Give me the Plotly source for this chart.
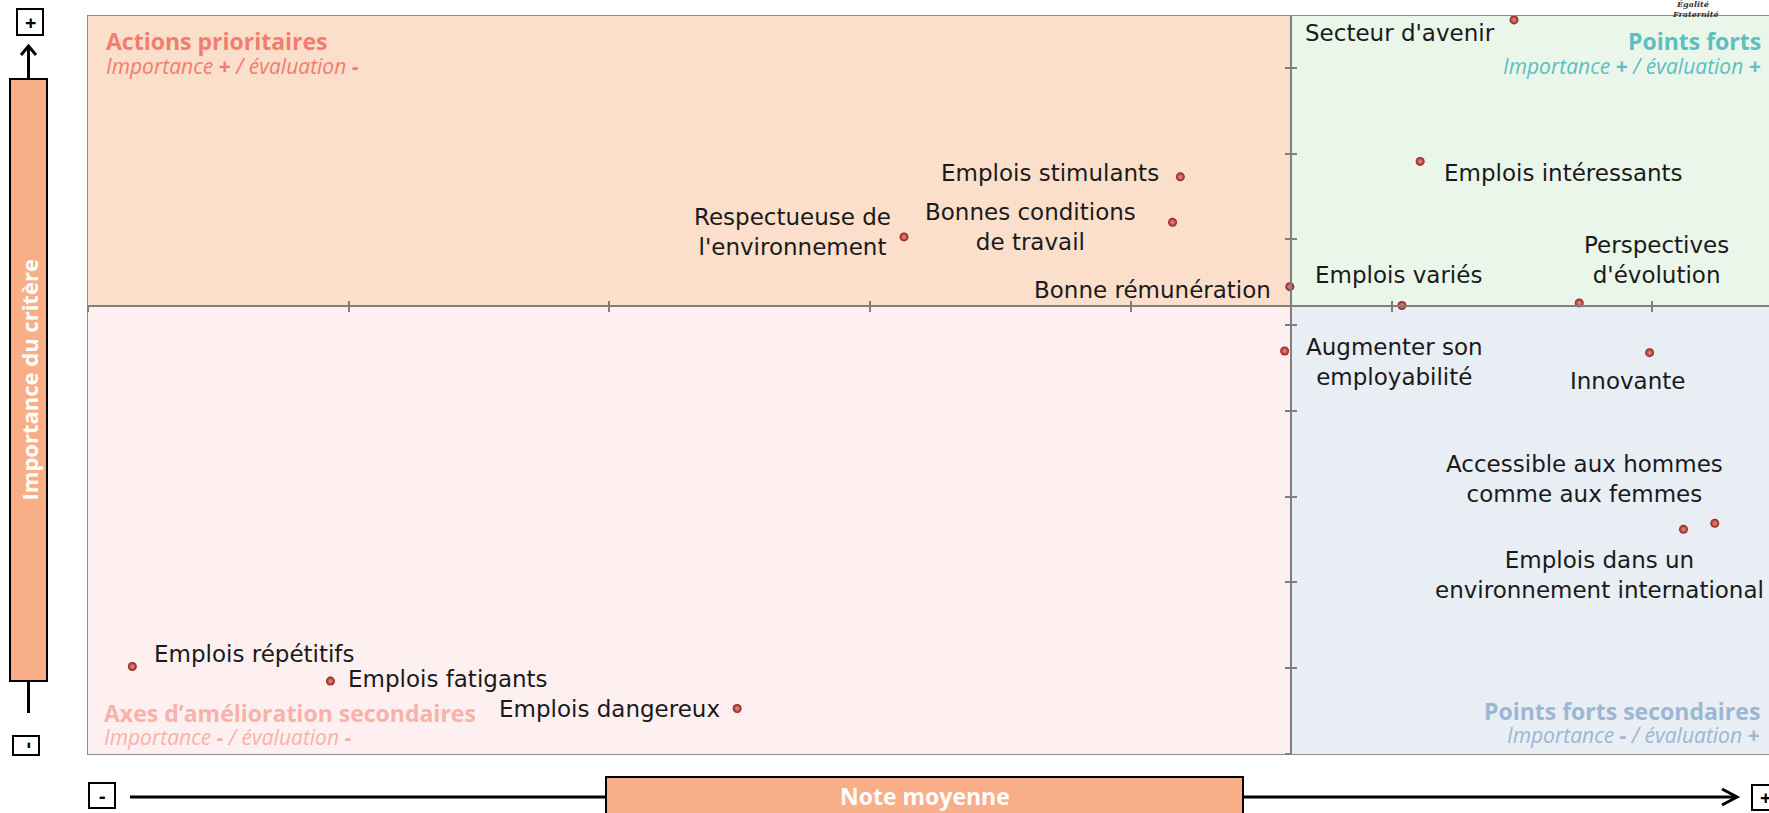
import plotly.graph_objects as go

# criteres : note moyenne (x) et importance du critere (y)
criteres = ["Secteur d'avenir", "Emplois intéressants", "Emplois stimulants",
            "Bonnes conditions<br>de travail", "Respectueuse de<br>l'environnement",
            "Bonne rémunération", "Emplois variés", "Perspectives<br>d'évolution",
            "Augmenter son<br>employabilité", "Innovante",
            "Accessible aux hommes<br>comme aux femmes",
            "Emplois dans un<br>environnement international",
            "Emplois répétitifs", "Emplois fatigants", "Emplois dangereux"]
note_moyenne = [5.47, 5.11, 4.19, 4.16, 3.13, 4.61, 5.04, 5.72, 4.59, 5.99,
                6.12, 6.24, 0.17, 0.93, 2.49]
importance = [8.56, 6.91, 6.73, 6.20, 6.03, 5.45, 5.23, 5.26, 4.70, 4.68,
              2.62, 2.69, 1.02, 0.85, 0.53]

# croisement des axes (moyennes)
x_cross = 4.614
y_cross = 5.22
x_max = 6.448
y_max = 8.606
x_ticks = [0, 1, 2, 3, 4, 5, 6]
y_ticks = [0, 1, 2, 3, 4, 5, 6, 7, 8]

# quadrants : titre, sous-titre, couleur de fond, couleur du texte
quadrants = {
    "hg": ("Actions prioritaires", "Importance <b>+</b> / évaluation <b>-</b>", "#FBDFCA", "#F47C6F"),
    "hd": ("Points forts", "Importance <b>+</b> / évaluation <b>+</b>", "#EAF6EA", "#5CBFC1"),
    "bg": ("Axes d’amélioration secondaires", "Importance <b>-</b> / évaluation <b>-</b>", "#FEF0F0", "#F9B1A9"),
    "bd": ("Points forts secondaires", "Importance <b>-</b> / évaluation <b>+</b>", "#E8EEF3", "#9CB6D4"),
}

# position des etiquettes : ancre, decalage x, decalage y (pixels)
label_pos = {
    "Secteur d'avenir": ("right", -17, -13),
    "Emplois intéressants": ("left", 22, -12),
    "Emplois stimulants": ("right", -19, 4),
    "Bonnes conditions<br>de travail": ("right", -35, -5),
    "Respectueuse de<br>l'environnement": ("right", -11, 5),
    "Bonne rémunération": ("right", -17, -3),
    "Emplois variés": ("center", -3, 31),
    "Perspectives<br>d'évolution": ("center", 77, 43),
    "Augmenter son<br>employabilité": ("left", 19, -11),
    "Innovante": ("center", -22, -28),
    "Accessible aux hommes<br>comme aux femmes": ("center", -99, 50),
    "Emplois dans un<br>environnement international": ("center", -115, -52),
    "Emplois répétitifs": ("left", 20, 13),
    "Emplois fatigants": ("left", 16, 2),
    "Emplois dangereux": ("right", -15, 0),
}

W, H = 1769, 813
L, T, B = 88, 16, 754
FONT = "Open Sans"
LABEL_FONT = "DejaVu Sans"


def px(x):
    return (x - L) / (W - L)


def py(y):
    return (B - y) / (B - T)


fig = go.Figure()

fig.add_trace(go.Scatter(
    x=note_moyenne, y=importance, mode="markers", showlegend=False,
    text=[c.replace("<br>", " ") for c in criteres], hoverinfo="text",
    marker=dict(size=9, color="#8E1E1A", line=dict(width=0),
                gradient=dict(type="radial", color="#F29488")),
))
# traces vides pour les axes de graduation superposes
fig.add_trace(go.Scatter(x=[None], y=[None], xaxis="x2", yaxis="y2",
                         showlegend=False, hoverinfo="skip"))

shapes = []
# fonds des quadrants
for key, (x0, x1, y0, y1) in {"hg": (0, x_cross, y_cross, y_max),
                              "hd": (x_cross, x_max, y_cross, y_max),
                              "bg": (0, x_cross, 0, y_cross),
                              "bd": (x_cross, x_max, 0, y_cross)}.items():
    shapes.append(dict(type="rect", xref="x", yref="y", x0=x0, x1=x1, y0=y0, y1=y1,
                       fillcolor=quadrants[key][2], line=dict(width=0), layer="below"))
# cadre
shapes.append(dict(type="rect", xref="paper", yref="paper", x0=0, x1=1.05, y0=0, y1=1,
                   line=dict(color="#8c8c8c", width=2), layer="below"))

# barre verticale "Importance du critere"
shapes.append(dict(type="rect", xref="paper", yref="paper", x0=px(10), x1=px(47), y0=py(681), y1=py(79),
                   fillcolor="#F8AE86", line=dict(color="black", width=2)))
shapes.append(dict(type="line", xref="paper", yref="paper", x0=px(28.5), x1=px(28.5), y0=py(79), y1=py(47),
                   line=dict(color="black", width=3)))
shapes.append(dict(type="path", xref="paper", yref="paper",
                   path=f"M {px(21)} {py(55)} L {px(28.5)} {py(46)} L {px(36)} {py(55)}",
                   line=dict(color="black", width=3)))
shapes.append(dict(type="line", xref="paper", yref="paper", x0=px(28.5), x1=px(28.5), y0=py(681), y1=py(713),
                   line=dict(color="black", width=3)))

# barre horizontale "Note moyenne"
shapes.append(dict(type="line", xref="paper", yref="paper", x0=px(130), x1=px(1736), y0=py(797), y1=py(797),
                   line=dict(color="black", width=3)))
shapes.append(dict(type="path", xref="paper", yref="paper",
                   path=f"M {px(1722)} {py(789)} L {px(1737)} {py(797)} L {px(1722)} {py(805)}",
                   line=dict(color="black", width=3)))
shapes.append(dict(type="rect", xref="paper", yref="paper", x0=px(606), x1=px(1243), y0=py(825), y1=py(777),
                   fillcolor="#F8AE86", line=dict(color="black", width=2)))

# petites boites +/-
boxes = [(17, 43, 9, 35, "+", 0), (13, 39, 736, 755, "-", -90),
         (89, 115, 783, 808, "-", 0), (1752, 1778, 785, 810, "+", 0)]
annotations = []
for x0, x1, y0, y1, sign, ang in boxes:
    shapes.append(dict(type="rect", xref="paper", yref="paper", x0=px(x0), x1=px(x1), y0=py(y1), y1=py(y0),
                       fillcolor="white", line=dict(color="black", width=2)))
    annotations.append(dict(xref="paper", yref="paper", x=px((x0 + x1) / 2), y=py((y0 + y1) / 2),
                            xanchor="center", yanchor="middle",
                            text=f"<b>{sign}</b>", showarrow=False, textangle=ang,
                            font=dict(family=FONT, size=20, color="black")))

annotations.append(dict(xref="paper", yref="paper", x=px(28.5), y=py(380), xanchor="center", yanchor="middle",
                        text="<b>Importance du critère</b>", textangle=-90, showarrow=False,
                        font=dict(family=FONT, size=22, color="white")))
annotations.append(dict(xref="paper", yref="paper", x=px(925), y=py(796), xanchor="center", yanchor="middle",
                        text="<b>Note moyenne</b>", showarrow=False,
                        font=dict(family=FONT, size=23, color="white")))

# titres des quadrants
for key, xa, xp, yt, ys in [("hg", "left", 104, 41, 66), ("hd", "right", 1763, 41, 66),
                            ("bg", "left", 102, 713, 737), ("bd", "right", 1762, 711, 735)]:
    title, sub, _, col = quadrants[key]
    annotations.append(dict(xref="paper", yref="paper", x=px(xp), y=py(yt), xanchor=xa, yanchor="middle",
                            text=f"<b>{title}</b>", showarrow=False,
                            font=dict(family=FONT, size=23, color=col)))
    annotations.append(dict(xref="paper", yref="paper", x=px(xp), y=py(ys), xanchor=xa, yanchor="middle",
                            text=f"<i>{sub}</i>", showarrow=False,
                            font=dict(family=FONT, size=21, color=col)))

# etiquettes des points
for name, xv, yv in zip(criteres, note_moyenne, importance):
    anchor, dx, dy = label_pos[name]
    annotations.append(dict(x=xv, y=yv, xref="x", yref="y", text=name, showarrow=False,
                            xanchor=anchor, yanchor="middle", xshift=dx, yshift=dy, align="center",
                            font=dict(family=LABEL_FONT, size=23, color="#1a1a1a")))

# logo coupe en haut a droite
annotations.append(dict(xref="paper", yref="paper", x=px(1692), y=py(4), xanchor="center", yanchor="middle",
                        text="<b><i>Égalité</i></b>", showarrow=False,
                        font=dict(family="DejaVu Serif", size=8, color="#333")))
annotations.append(dict(xref="paper", yref="paper", x=px(1695), y=py(14), xanchor="center", yanchor="middle",
                        text="<b><i>Fraternité</i></b>", showarrow=False,
                        font=dict(family="DejaVu Serif", size=8, color="#333")))

pos_x = y_cross / y_max
pos_y = x_cross / x_max
axis_common = dict(showgrid=False, zeroline=False, showticklabels=False, ticklen=5,
                   tickcolor="#7f7f7f", tickwidth=1.5)

fig.update_layout(
    width=W, height=H, autosize=False,
    margin=dict(l=L, r=0, t=T, b=H - B),
    paper_bgcolor="white", plot_bgcolor="white",
    xaxis=dict(range=[0, x_max], anchor="free", position=pos_x, showline=True, linecolor="#7f7f7f",
               linewidth=1.5, ticks="outside", tickvals=x_ticks, **axis_common),
    xaxis2=dict(range=[0, x_max], overlaying="x", anchor="free", position=pos_x, showline=False,
                ticks="inside", tickvals=x_ticks, **axis_common),
    yaxis=dict(range=[0, y_max], anchor="free", position=pos_y, showline=True, linecolor="#7f7f7f",
               linewidth=1.5, ticks="outside", tickvals=y_ticks, **axis_common),
    yaxis2=dict(range=[0, y_max], overlaying="y", anchor="free", position=pos_y, showline=False,
                ticks="inside", tickvals=y_ticks, **axis_common),
    shapes=shapes,
    annotations=annotations,
    hovermode="closest",
)

fig.write_html("out.html", config={"displayModeBar": False},
               post_script="document.body.style.margin='0';")
